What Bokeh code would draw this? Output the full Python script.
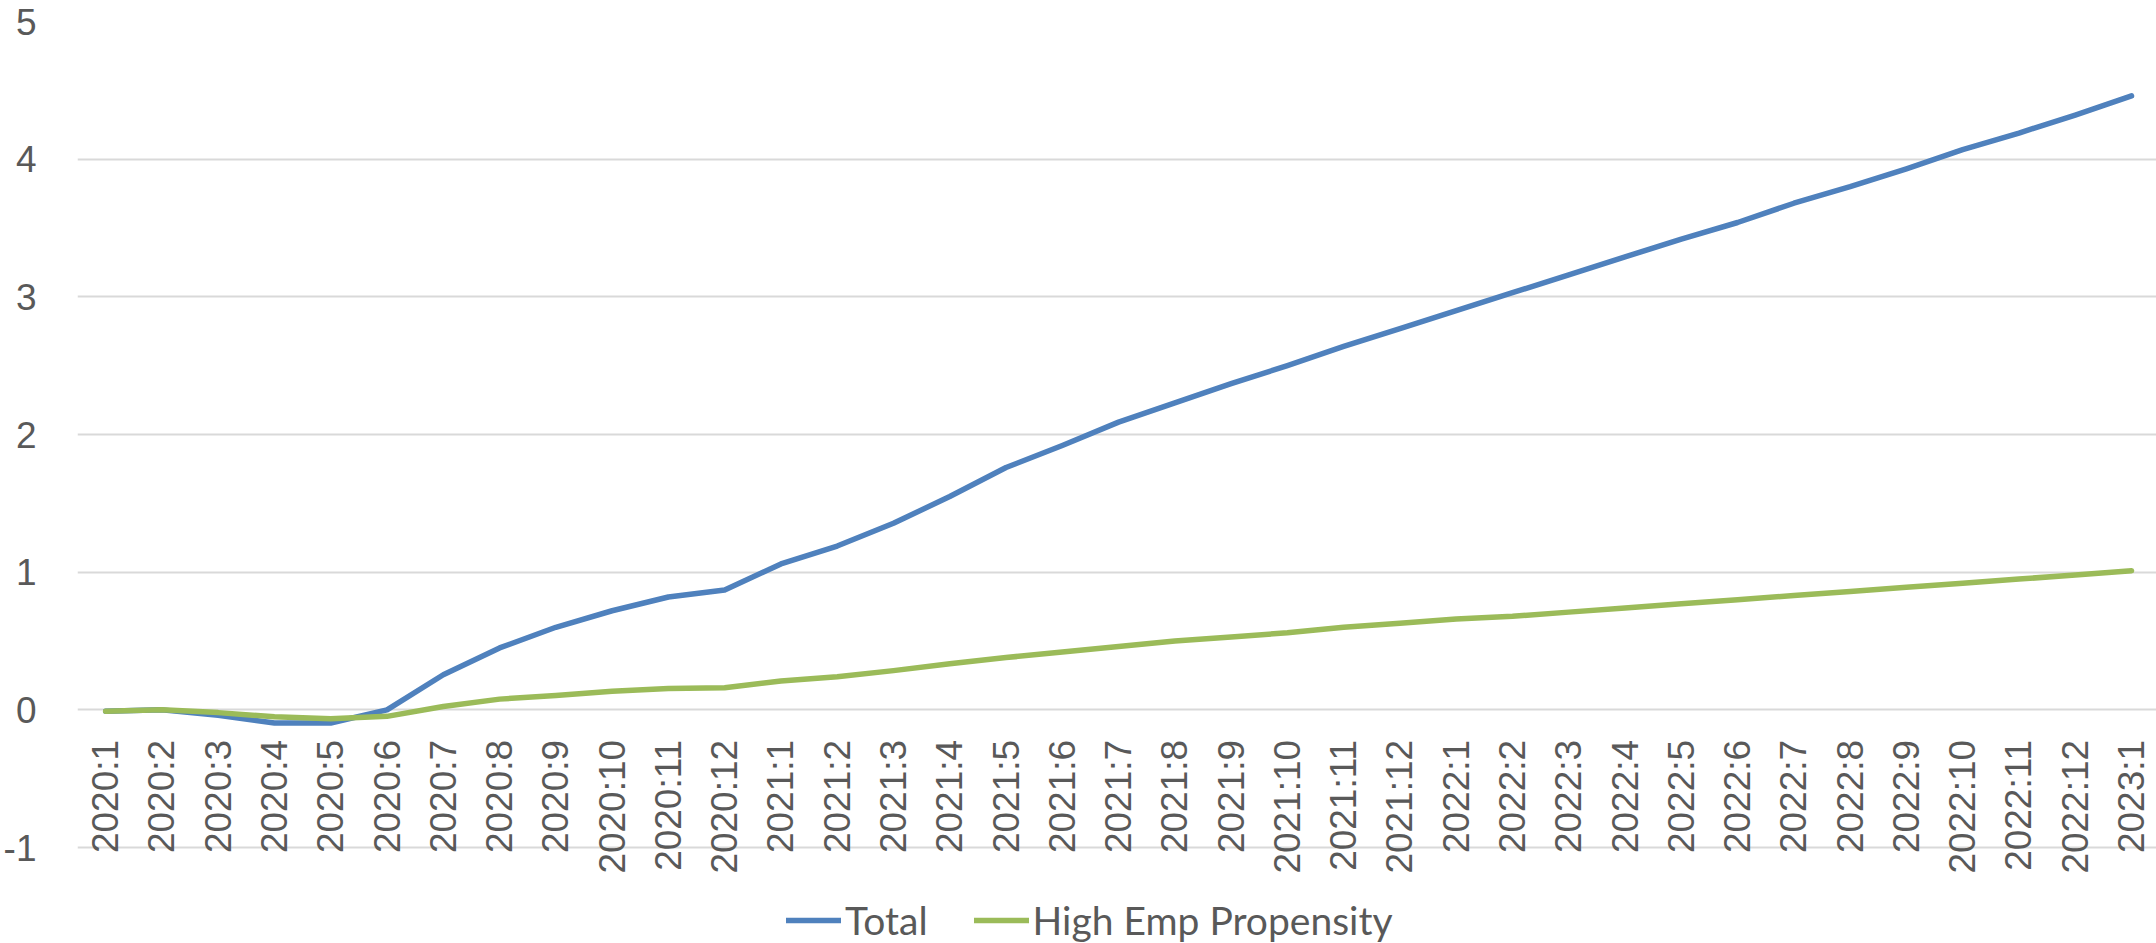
import math
from bokeh.plotting import figure
from bokeh.models import Range1d, FixedTicker, Legend, LegendItem, ColumnDataSource
from bokeh.core.properties import value
from bokeh.embed import file_html
from bokeh.resources import INLINE

months = ["2020:1", "2020:2", "2020:3", "2020:4", "2020:5", "2020:6", "2020:7", "2020:8",
          "2020:9", "2020:10", "2020:11", "2020:12",
          "2021:1", "2021:2", "2021:3", "2021:4", "2021:5", "2021:6", "2021:7", "2021:8",
          "2021:9", "2021:10", "2021:11", "2021:12",
          "2022:1", "2022:2", "2022:3", "2022:4", "2022:5", "2022:6", "2022:7", "2022:8",
          "2022:9", "2022:10", "2022:11", "2022:12",
          "2023:1"]

total = [-0.01, 0.0, -0.04, -0.095, -0.095, 0.0, 0.255, 0.45, 0.60, 0.72, 0.82, 0.87,
         1.06, 1.19, 1.355, 1.55, 1.76, 1.92, 2.09, 2.23, 2.37, 2.50, 2.64, 2.77,
         2.90, 3.03, 3.16, 3.29, 3.42, 3.54, 3.68, 3.80, 3.93, 4.07, 4.19, 4.32, 4.46]

high_emp = [-0.01, 0.0, -0.02, -0.05, -0.065, -0.047, 0.025, 0.078, 0.105, 0.135, 0.155, 0.16,
            0.21, 0.24, 0.285, 0.335, 0.38, 0.42, 0.46, 0.50, 0.53, 0.56, 0.60, 0.63,
            0.66, 0.68, 0.71, 0.74, 0.77, 0.80, 0.83, 0.86, 0.89, 0.92, 0.95, 0.98, 1.01]

y_ticks = [-1, 0, 1, 2, 3, 4, 5]

idx = list(range(len(months)))
TEXT = "#595959"

p = figure(frame_width=2079, frame_height=922,
           x_range=Range1d(-0.5, 36.444), y_range=Range1d(-1.697, 5),
           x_axis_type=None, toolbar_location=None, output_backend="svg",
           min_border_left=77, min_border_right=0, min_border_top=21, min_border_bottom=0)
p.outline_line_color = None
p.background_fill_color = "white"
for g in p.xgrid:
    g.visible = False

p.yaxis.ticker = FixedTicker(ticks=y_ticks)
p.ygrid.ticker = FixedTicker(ticks=y_ticks)
p.ygrid.grid_line_color = "#d9d9d9"
p.ygrid.grid_line_width = 2
p.yaxis.axis_line_color = None
p.yaxis.major_tick_line_color = None
p.yaxis.minor_tick_line_color = None
p.yaxis.major_tick_out = 0
p.yaxis.major_tick_in = 0
p.yaxis.major_label_standoff = 41
p.yaxis.major_label_text_font = "Liberation Sans"
p.yaxis.major_label_text_font_size = "37px"
p.yaxis.major_label_text_color = TEXT
p.yaxis.major_label_overrides = {t: str(t) for t in y_ticks}

r1 = p.line(idx, total, line_color="#4F81BD", line_width=5.5, line_cap="round", line_join="round")
r2 = p.line(idx, high_emp, line_color="#9BBB59", line_width=5.5, line_cap="round", line_join="round")

src = ColumnDataSource(dict(x=idx, y=[0] * len(idx), text=months))
p.text(x="x", y="y", text="text", source=src, angle=math.pi / 2,
       text_align="right", text_baseline="middle", y_offset=30,
       text_font=value("Liberation Sans"), text_font_size="37px", text_color=TEXT)

legend = Legend(items=[LegendItem(label="Total", renderers=[r1]),
                       LegendItem(label="High Emp Propensity", renderers=[r2])],
                orientation="horizontal", location=(709, 0),
                glyph_width=55, glyph_height=38, label_height=38, label_standoff=4,
                spacing=46, padding=0, margin=0, border_line_color=None,
                background_fill_alpha=0, label_text_font="Lato",
                label_text_font_size="39px", label_text_color=TEXT)
p.add_layout(legend)

open("out.html", "w").write(file_html(p, INLINE))
